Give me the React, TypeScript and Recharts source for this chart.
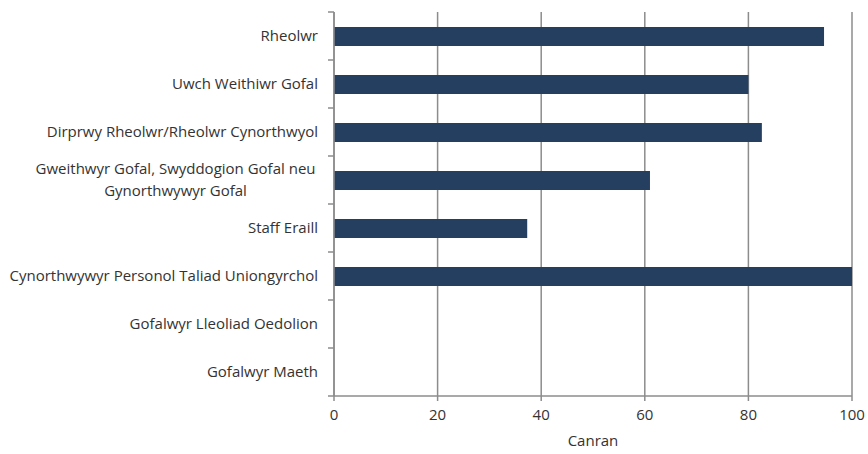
import { BarChart, Bar, XAxis, YAxis, CartesianGrid } from 'recharts'

const categories = [
  'Rheolwr',
  'Uwch Weithiwr Gofal',
  'Dirprwy Rheolwr/Rheolwr Cynorthwyol',
  'Gweithwyr Gofal, Swyddogion Gofal neu\nGynorthwywyr Gofal',
  'Staff Eraill',
  'Cynorthwywyr Personol Taliad Uniongyrchol',
  'Gofalwyr Lleoliad Oedolion',
  'Gofalwyr Maeth',
]
const canran = [94.6, 80, 82.6, 61, 37.3, 100, 0, 0]
const xTicks = [0, 20, 40, 60, 80, 100]

const data = categories.map((c, i) => ({ role: c, value: canran[i] }))

const FONT = '"Open Sans", sans-serif'
const FS = 15
const GRID = '#8c8c8c'
const BAR = '#253f61'
const W = 868
const H = 454
const TOP = 12
const X_AXIS_H = 52
const BOTTOM = 6
const BAND = (H - TOP - X_AXIS_H - BOTTOM) / categories.length
const TICK = 6

function RoleTick({ x, y, payload, index }: any) {
  const lines: string[] = String(payload.value).split('\n')
  const tx = x - 10
  // tick marks sit on the category boundaries, not the centres
  const marks = (
    <g>
      <line x1={x} x2={x + TICK} y1={y - BAND / 2} y2={y - BAND / 2} stroke={GRID} strokeWidth={1.5} />
      {index === categories.length - 1 && (
        <line x1={x} x2={x + TICK} y1={y + BAND / 2} y2={y + BAND / 2} stroke={GRID} strokeWidth={1.5} />
      )}
    </g>
  )
  if (lines.length === 1) {
    return (
      <g>
        {marks}
        <text x={tx} y={y} dy={5} textAnchor="end" fontSize={FS} fill="#333" fontFamily={FONT}>
          {lines[0]}
        </text>
      </g>
    )
  }
  // wrapped labels are centred under their longest line
  const half = Math.max(...lines.map(l => l.length)) * 3.85
  return (
    <g>
      {marks}
      <text x={tx - half} y={y} textAnchor="middle" fontSize={FS} fill="#333" fontFamily={FONT}>
        {lines.map((l, i) => (
          <tspan key={i} x={tx - half} dy={i === 0 ? 5 - (lines.length - 1) * 11 : 22}>{l}</tspan>
        ))}
      </text>
    </g>
  )
}

export default function App() {
  return (
    <div style={{ position: 'absolute', left: 0, top: 0, fontFamily: FONT }}>
      <BarChart width={W} height={H} data={data} layout="vertical"
        margin={{ top: TOP, right: 16, bottom: BOTTOM, left: 0 }}>
        <CartesianGrid horizontal={false} stroke={GRID} strokeWidth={1.5} />
        <XAxis type="number" domain={[0, 100]} ticks={xTicks} interval={0}
          tick={{ fontSize: FS, fill: '#333', fontFamily: FONT }}
          stroke={GRID} strokeWidth={1.5} tickSize={5} tickMargin={8} height={X_AXIS_H}
          label={{ value: 'Canran', position: 'insideBottom', offset: 2, fontSize: FS, fill: '#333', fontFamily: FONT }} />
        <YAxis type="category" dataKey="role" width={334}
          axisLine={{ stroke: GRID, strokeWidth: 1.5 }}
          tickLine={false} tickSize={TICK} tickMargin={0} tick={<RoleTick />} interval={0} />
        <Bar dataKey="value" fill={BAR} barSize={19} isAnimationActive={false} />
      </BarChart>
    </div>
  )
}
